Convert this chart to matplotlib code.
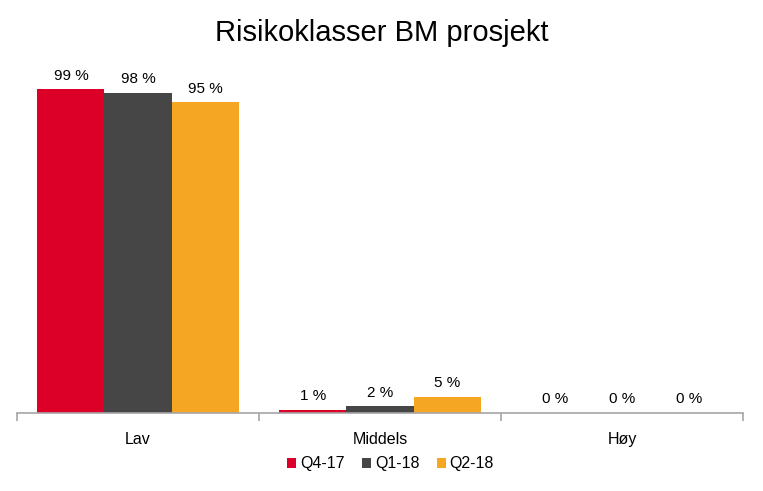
import numpy as np
import matplotlib.pyplot as plt

plt.rcParams['font.family'] = ['Liberation Sans', 'DejaVu Sans']

categories = ['Lav', 'Middels', 'Høy']
series_names = ['Q4-17', 'Q1-18', 'Q2-18']
q4_17 = [99, 1, 0]
q1_18 = [98, 2, 0]
q2_18 = [95, 5, 0]
colors = ['#DC0028', '#464646', '#F5A623']

fig = plt.figure(figsize=(7.63, 4.91), dpi=100)
ax = fig.add_axes([17 / 763, 78 / 491, 726 / 763, 353 / 491])

x = np.arange(len(categories))
w = 0.277
for i, (vals, name) in enumerate(zip([q4_17, q1_18, q2_18], series_names)):
    pos = x + (i - 1) * w
    ax.bar(pos, vals, width=w, color=colors[i], label=name)
    for p, v in zip(pos, vals):
        ax.text(p, v + 2.1, f'{v} %', ha='center', va='bottom', fontsize=11,
                clip_on=False)

ax.set_xlim(-0.5, 2.5)
ax.set_ylim(0, 108)
ax.set_yticks([])
for s in ['top', 'right', 'left']:
    ax.spines[s].set_visible(False)
ax.spines['bottom'].set_color('#A6A6A6')
ax.spines['bottom'].set_linewidth(1.2)

ax.set_xticks(x)
ax.set_xticklabels(categories, fontsize=11.5)
ax.tick_params(axis='x', which='major', length=0, pad=14)
ax.set_xticks([-0.5, 0.5, 1.5, 2.5], minor=True)
ax.tick_params(axis='x', which='minor', length=6, color='#A6A6A6', width=1.2)

fig.text(0.5, 0.932, 'Risikoklasser BM prosjekt', ha='center', va='center',
         fontsize=21)

fig.legend(loc='center', bbox_to_anchor=(0.512, 0.055), ncol=3, frameon=False,
           fontsize=11.5, handlelength=0.55, handleheight=0.55, handletextpad=0.25,
           columnspacing=1.1)

fig.savefig('out.png', dpi=100)
